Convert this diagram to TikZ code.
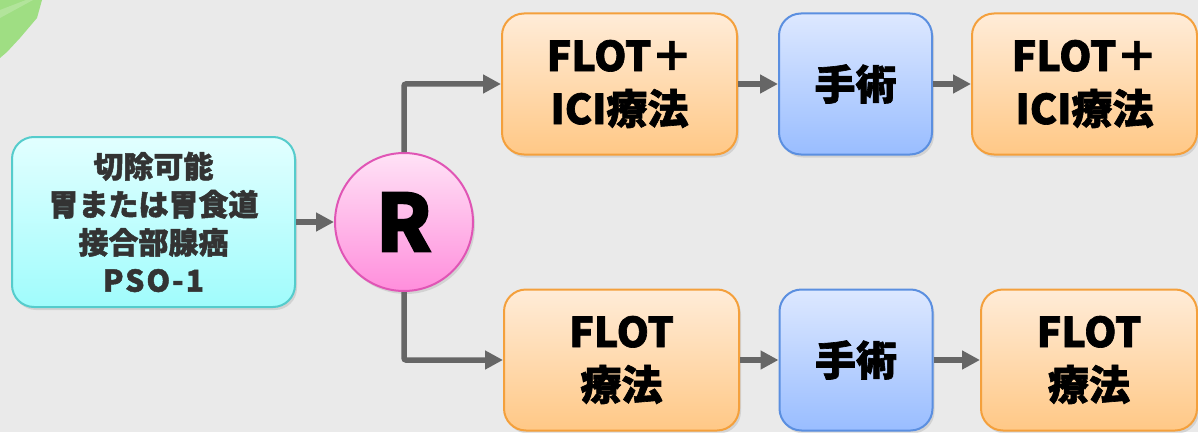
\documentclass[tikz,border=0pt]{standalone}
\usepackage{fontspec}
\newfontfamily\jp{Noto Sans CJK JP}[BoldFeatures={FakeBold=1.6}]
\usetikzlibrary{arrows.meta,shadows}

\definecolor{bgcol}{HTML}{EAEAEA}
\definecolor{arrowcol}{HTML}{666666}
\definecolor{leaf}{HTML}{92DC72}
\definecolor{orTop}{HTML}{FFECD8}
\definecolor{orBot}{HTML}{FFC886}
\definecolor{orLine}{HTML}{F4A03C}
\definecolor{blTop}{HTML}{DDE8FF}
\definecolor{blBot}{HTML}{99BDFF}
\definecolor{blLine}{HTML}{5B8FE0}
\definecolor{cyTop}{HTML}{E2FFFF}
\definecolor{cyBot}{HTML}{A0FCFC}
\definecolor{cyLine}{HTML}{55CCCC}
\definecolor{pkTop}{HTML}{FFE2F6}
\definecolor{pkBot}{HTML}{FF8EDC}
\definecolor{pkLine}{HTML}{E055B5}
\definecolor{txtdark}{HTML}{333333}

\tikzset{
  x=1pt, y=1pt,
  box/.style={rounded corners=22pt, line width=2pt, inner sep=0pt,
    align=center, minimum height=141pt,
    drop shadow={opacity=0.22, shadow xshift=2pt, shadow yshift=-3pt}},
  chemo/.style={box, draw=orLine, top color=orTop, bottom color=orBot,
    font=\jp\bfseries\fontsize{41}{53}\selectfont},
  surgery/.style={box, draw=blLine, top color=blTop, bottom color=blBot,
    minimum width=153pt, font=\jp\bfseries\fontsize{41}{53}\selectfont},
  entry/.style={box, draw=cyLine, top color=cyTop, bottom color=cyBot,
    minimum width=283pt, minimum height=170pt, text=txtdark,
    font=\jp\bfseries\fontsize{30}{38}\selectfont},
  rand/.style={circle, draw=pkLine, line width=2pt, top color=pkTop,
    bottom color=pkBot, minimum size=138pt, inner sep=0pt,
    font=\jp\bfseries\fontsize{80}{80}\selectfont,
    drop shadow={opacity=0.22, shadow xshift=2pt, shadow yshift=-3pt}},
  flow/.style={draw=arrowcol, line width=5.5pt,
    -{Triangle[length=18pt, width=18pt]}},
}

\begin{document}
\begin{tikzpicture}
  % page and background
  \fill[bgcol] (0,0) rectangle (1198,432);
  \useasboundingbox (0,0) rectangle (1198,432);

  % green brush stroke in the corner
  \fill[leaf, opacity=0.85] (0,432) -- (42,432) -- (37,414) -- (20,394)
    -- (7,380) -- (0,374) -- cycle;
  \fill[white, opacity=0.2] (0,422) -- (26,432) -- (33,432) -- (0,414) -- cycle;

  % patient population
  \node[entry] (pop) at (153.5,210)
    {切除可能\\胃または胃食道\\接合部腺癌\\{\addfontfeature{LetterSpace=7}PSO-1}};

  % randomisation
  \node[rand] (R) at (404,210) {R};

  % upper arm
  \node[chemo, minimum width=235pt] (a1) at (619.5,348) {FLOT＋\\ICI療法};
  \node[surgery] (a2) at (855.5,348) {手術};
  \node[chemo, minimum width=225pt] (a3) at (1084.5,348) {FLOT＋\\ICI療法};

  % lower arm
  \node[chemo, minimum width=235pt] (b1) at (621.5,72) {FLOT\\療法};
  \node[surgery] (b2) at (856,72) {手術};
  \node[chemo, minimum width=216pt] (b3) at (1089,72) {FLOT\\療法};

  % connectors
  \draw[flow] (pop.east) -- (R.west);
  \draw[flow, rounded corners=2pt] (R.north) |- (a1.west);
  \draw[flow, rounded corners=2pt] (R.south) |- (b1.west);
  \draw[flow] (a1.east) -- (a2.west);
  \draw[flow] (a2.east) -- (a3.west);
  \draw[flow] (b1.east) -- (b2.west);
  \draw[flow] (b2.east) -- (b3.west);
\end{tikzpicture}
\end{document}
